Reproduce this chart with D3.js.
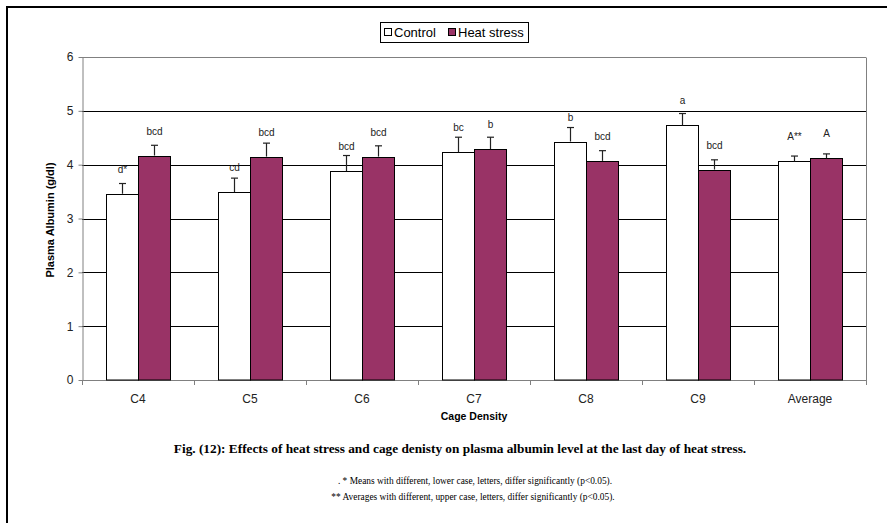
<!DOCTYPE html>
<html><head><meta charset="utf-8">
<script src="https://cdn.jsdelivr.net/npm/d3@7"></script>
<style>body{margin:0;background:#fff}</style>
</head><body>
<script>
const categories = ["C4","C5","C6","C7","C8","C9","Average"];
const seriesNames = ["Control","Heat stress"];
const controlValues = [3.46,3.49,3.88,4.23,4.43,4.73,4.06];
const controlErrors = [0.19,0.26,0.29,0.28,0.26,0.22,0.10];
const heatValues = [4.17,4.15,4.15,4.29,4.07,3.91,4.12];
const heatErrors = [0.19,0.25,0.20,0.22,0.19,0.18,0.08];
const controlLabels = ["d*","cd","bcd","bc","b","a","A**"];
const heatLabels = ["bcd","bcd","bcd","b","bcd","bcd","A"];
const yTicks = [0,1,2,3,4,5,6];

const W=887,H=523;
const svg=d3.select("body").append("svg").attr("width",W).attr("height",H);
svg.append("rect").attr("width",W).attr("height",H).attr("fill","#fff");
// frame
svg.append("line").attr("x1",7).attr("x2",887).attr("y1",7).attr("y2",7).attr("stroke","#000").attr("stroke-width",2);
svg.append("line").attr("x1",7).attr("x2",7).attr("y1",6).attr("y2",523).attr("stroke","#000").attr("stroke-width",2);

const L=82,R=866,T=57,B=380;
const x=d3.scaleBand().domain(categories).range([L,R]);
const bw=x.bandwidth()/3.5;
const xs=d3.scaleBand().domain(seriesNames).range([0,2*bw]);
const y=d3.scaleLinear().domain([0,6]).range([B,T]);
const colors={"Control":"#ffffff","Heat stress":"#993366"};

// gridlines
svg.append("g").selectAll("line").data(yTicks.filter(d=>d>0)).join("line")
 .attr("x1",L).attr("x2",R).attr("y1",d=>Math.round(y(d))+0.5).attr("y2",d=>Math.round(y(d))+0.5)
 .attr("stroke",d=>d===6?"#808080":"#000").attr("stroke-width",1);
// right border of plot area
svg.append("line").attr("x1",R+0.5).attr("x2",R+0.5).attr("y1",Math.round(T)+0.5).attr("y2",B).attr("stroke","#808080");

// axes
const yAxis=svg.append("g").attr("transform",`translate(${L+0.5},0)`)
 .call(d3.axisLeft(y).tickValues(yTicks).tickFormat(d3.format("d")).tickSize(4).tickPadding(5).tickSizeOuter(0));
yAxis.select(".domain").attr("stroke","#808080");
yAxis.selectAll(".tick line").attr("stroke","#808080");
yAxis.selectAll(".tick text").attr("font-family","Liberation Sans, Arial, sans-serif").attr("font-size",12).attr("fill","#222");

const xAxis=svg.append("g").attr("transform",`translate(0,${Math.round(B)+0.5})`)
 .call(d3.axisBottom(x).tickSize(0).tickPadding(14));
xAxis.select(".domain").attr("stroke","#808080").attr("d",`M${L},0H${R}`);
xAxis.selectAll(".tick text").attr("font-family","Liberation Sans, Arial, sans-serif").attr("font-size",12).attr("fill","#222");
// category boundary ticks
svg.append("g").selectAll("line").data(categories.concat(["_end"])).join("line")
 .attr("x1",(d,i)=>Math.round(L+i*x.step())+0.5).attr("x2",(d,i)=>Math.round(L+i*x.step())+0.5)
 .attr("y1",B).attr("y2",B+5).attr("stroke","#808080");

const data=categories.map((c,i)=>[
 {cat:c,s:"Control",v:controlValues[i],e:controlErrors[i],lab:controlLabels[i]},
 {cat:c,s:"Heat stress",v:heatValues[i],e:heatErrors[i],lab:heatLabels[i]}]).flat();
const gap=(x.bandwidth()-2*bw)/2;
const bx=d=>Math.round(x(d.cat)+gap+xs(d.s))+0.5;

const bars=svg.append("g");
bars.selectAll("rect").data(data).join("rect")
 .attr("x",d=>bx(d)).attr("y",d=>Math.round(y(d.v))+0.5).attr("width",Math.round(bw)).attr("height",d=>B-Math.round(y(d.v))-0.5)
 .attr("fill",d=>colors[d.s]).attr("stroke","#000").attr("stroke-width",1);
// error bars
const eb=svg.append("g").attr("stroke","#222").attr("stroke-width",1.2);
eb.selectAll("line.v").data(data).join("line").attr("class","v")
 .attr("x1",d=>bx(d)+bw/2).attr("x2",d=>bx(d)+bw/2).attr("y1",d=>y(d.v)).attr("y2",d=>y(d.v+d.e));
eb.selectAll("line.c").data(data).join("line").attr("class","c")
 .attr("x1",d=>bx(d)+bw/2-3.5).attr("x2",d=>bx(d)+bw/2+3.5).attr("y1",d=>y(d.v+d.e)).attr("y2",d=>y(d.v+d.e));
// significance labels
svg.append("g").selectAll("text").data(data).join("text")
 .attr("x",d=>bx(d)+bw/2).attr("y",d=>y(d.v)-21)
 .attr("text-anchor","middle").attr("font-family","Liberation Sans, Arial, sans-serif").attr("font-size",10).attr("fill","#222")
 .text(d=>d.lab);

// axis titles
svg.append("text").attr("transform","translate(54,220) rotate(-90)").attr("text-anchor","middle")
 .attr("font-family","Liberation Sans, Arial, sans-serif").attr("font-weight","bold").attr("font-size",11).text("Plasma Albumin (g/dl)");
svg.append("text").attr("x",474).attr("y",420).attr("text-anchor","middle")
 .attr("font-family","Liberation Sans, Arial, sans-serif").attr("font-weight","bold").attr("font-size",10.5).text("Cage Density");

// legend
const lg=svg.append("g");
lg.append("rect").attr("x",380.5).attr("y",22.5).attr("width",148).attr("height",20).attr("fill","#fff").attr("stroke","#000");
const items=[{n:"Control",x:384,tx:394},{n:"Heat stress",x:448,tx:458}];
items.forEach(it=>{
 lg.append("rect").attr("x",it.x+0.5).attr("y",28.5).attr("width",7).attr("height",7).attr("fill",colors[it.n]).attr("stroke","#000");
 lg.append("text").attr("x",it.tx).attr("y",37).attr("font-family","Liberation Sans, Arial, sans-serif").attr("font-size",13).text(it.n);
});

// caption
svg.append("text").attr("x",460).attr("y",453).attr("text-anchor","middle")
 .attr("font-family","Liberation Serif, Times New Roman, serif").attr("font-weight","bold").attr("font-size",13.3)
 .text("Fig. (12): Effects of heat stress and cage denisty on plasma albumin level at the last day of heat  stress.");
svg.append("text").attr("x",475).attr("y",484).attr("text-anchor","middle")
 .attr("font-family","Liberation Serif, Times New Roman, serif").attr("font-size",9.4)
 .text(". * Means with different, lower case, letters, differ significantly (p<0.05).");
svg.append("text").attr("x",473).attr("y",500).attr("text-anchor","middle")
 .attr("font-family","Liberation Serif, Times New Roman, serif").attr("font-size",9.4)
 .text("** Averages with different, upper case, letters, differ significantly (p<0.05).");
</script>
</body></html>
